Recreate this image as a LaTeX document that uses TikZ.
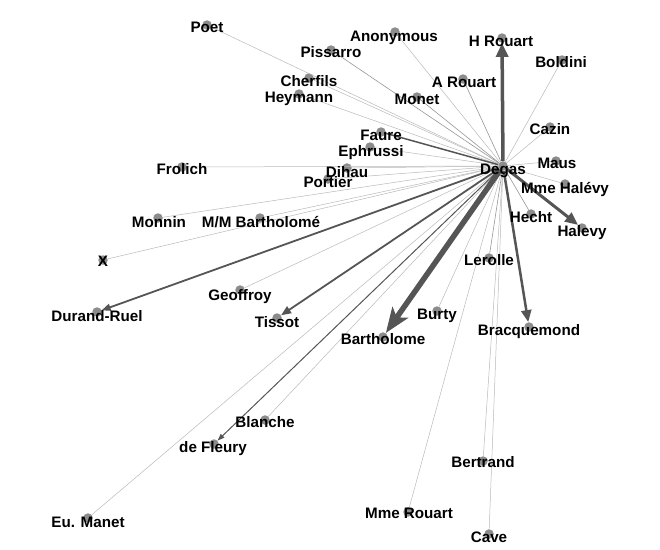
\documentclass[tikz,border=0pt]{standalone}
\usepackage{fontspec}
\setmainfont{Liberation Sans}
\usetikzlibrary{arrows.meta}
\definecolor{dotc}{RGB}{140,140,140}
\definecolor{darkedge}{RGB}{85,85,85}
\definecolor{lightedge}{RGB}{185,185,185}
\definecolor{midedge}{RGB}{150,150,150}
\newcommand\persdot[3]{\node[dot] (#1) at (#2,#3) {};}
\newcommand\perslbl[4]{\node[lbl] (#1-t) at (#2,#3) {#4};}
\begin{document}
\begin{tikzpicture}[x=1pt,y=-1pt,
  dot/.style={circle,fill=dotc,inner sep=0pt,minimum size=9.5pt},
  lbl/.style={font=\fontsize{15.2}{16}\selectfont\bfseries,inner sep=0pt,text=black,anchor=base},
  weak/.style={draw=lightedge,line width=0.5pt},
  mid/.style={draw=midedge,line width=0.6pt},
  strong/.style={draw=darkedge}]
\useasboundingbox (0,0) rectangle (660,549);
% dots
\persdot{Degas}{503}{166}
\persdot{Poet}{207}{25}
\persdot{Anonymous}{395}{32}
\persdot{Pissarro}{331}{50}
\persdot{Cherfils}{309}{78}
\persdot{Heymann}{299}{94}
\persdot{Monet}{417}{97}
\persdot{HRouart}{502}{38}
\persdot{Boldini}{562}{60}
\persdot{ARouart}{463}{79}
\persdot{Cazin}{550}{127}
\persdot{Maus}{556}{161}
\persdot{MmeHalevy}{565}{184}
\persdot{Hecht}{531}{214}
\persdot{Halevy}{582}{228}
\persdot{Faure}{381}{132}
\persdot{Ephrussi}{370}{147}
\persdot{Frolich}{182}{167}
\persdot{Dihau}{347}{168}
\persdot{Portier}{328}{179}
\persdot{Monnin}{158}{218}
\persdot{MMBartholome}{260}{218}
\persdot{X}{103}{260}
\persdot{DurandRuel}{97}{312}
\persdot{Geoffroy}{240}{290}
\persdot{Tissot}{277}{318}
\persdot{Lerolle}{489}{258}
\persdot{Burty}{437}{311}
\persdot{Bracquemond}{529}{327}
\persdot{Bartholome}{383}{337}
\persdot{Blanche}{265}{420}
\persdot{deFleury}{214}{444}
\persdot{EuManet}{88}{518}
\persdot{Bertrand}{483}{461}
\persdot{MmeRouart}{408}{512}
\persdot{Cave}{489}{534}
% light edges
\foreach \t in {Poet,Anonymous,Cherfils,Heymann,Boldini,Cazin,Maus,MmeHalevy,Ephrussi,Frolich,Dihau,Portier,Monnin,MMBartholome,X,Geoffroy,Burty,Blanche,EuManet,Bertrand,MmeRouart,Cave}
  \draw[weak] (Degas) -- (\t);
\foreach \t in {Pissarro,Monet,ARouart,Hecht,Lerolle}
  \draw[mid] (Degas) -- (\t);
% strong edges
\draw[strong,line width=1.5pt] (Degas) -- (Faure);
\draw[strong,line width=3.5pt,-{Triangle[length=14pt,width=12pt]}] (Degas) -- (HRouart);
\draw[strong,line width=5.5pt,-{Stealth[length=25pt,width=19pt,inset=6pt]}] (Degas) -- (Bartholome);
\draw[strong,line width=3pt,-{Triangle[length=13pt,width=11pt]}] (Degas) -- (Halevy);
\draw[strong,line width=2.5pt,-{Triangle[length=12pt,width=10pt]}] (Degas) -- (Bracquemond);
\draw[strong,line width=1.8pt,-{Triangle[length=9pt,width=7pt]}] (Degas) -- (DurandRuel);
\draw[strong,line width=1.8pt,-{Triangle[length=10pt,width=8pt]}] (Degas) -- (Tissot);
\draw[strong,line width=1pt,-{Triangle[length=7pt,width=5pt]}] (Degas) -- (deFleury);
% labels
\perslbl{Degas}{503}{174}{Degas}
\perslbl{Poet}{207}{32}{Poet}
\perslbl{Anonymous}{394}{41}{Anonymous}
\perslbl{Pissarro}{331}{57}{Pissarro}
\perslbl{Cherfils}{309}{86}{Cherfils}
\perslbl{Heymann}{299}{102}{Heymann}
\perslbl{Monet}{417}{104}{Monet}
\perslbl{HRouart}{501}{46}{H Rouart}
\perslbl{Boldini}{561}{67}{Boldini}
\perslbl{ARouart}{464}{87}{A Rouart}
\perslbl{Cazin}{550}{134}{Cazin}
\perslbl{Maus}{557}{168}{Maus}
\perslbl{MmeHalevy}{565}{193}{Mme Halévy}
\perslbl{Hecht}{531}{222}{Hecht}
\perslbl{Halevy}{582}{236}{Halevy}
\perslbl{Faure}{381}{140}{Faure}
\perslbl{Ephrussi}{371}{156}{Ephrussi}
\perslbl{Frolich}{182}{174}{Frolich}
\perslbl{Dihau}{347}{177}{Dihau}
\perslbl{Portier}{328}{187}{Portier}
\perslbl{Monnin}{159}{227}{Monnin}
\perslbl{MMBartholome}{261}{227}{M/M Bartholomé}
\perslbl{X}{103}{266}{X}
\perslbl{DurandRuel}{97}{321}{Durand-Ruel}
\perslbl{Geoffroy}{240}{300}{Geoffroy}
\perslbl{Tissot}{277}{327}{Tissot}
\perslbl{Lerolle}{489}{265}{Lerolle}
\perslbl{Burty}{437}{319}{Burty}
\perslbl{Bracquemond}{529}{335}{Bracquemond}
\perslbl{Bartholome}{383}{344}{Bartholome}
\perslbl{Blanche}{265}{427}{Blanche}
\perslbl{deFleury}{213}{452}{de Fleury}
\perslbl{EuManet}{88}{527}{Eu. Manet}
\perslbl{Bertrand}{483}{467}{Bertrand}
\perslbl{MmeRouart}{409}{518}{Mme Rouart}
\perslbl{Cave}{489}{542}{Cave}
\end{tikzpicture}
\end{document}
